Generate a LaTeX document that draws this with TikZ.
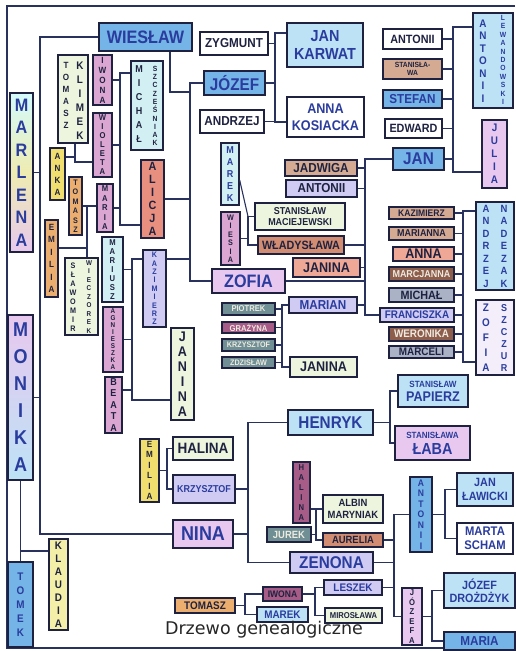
\documentclass[tikz,border=0pt]{standalone}
\usepackage{fontspec}
\setmainfont{Liberation Sans}
\newfontfamily\hand{Liberation Sans}[FakeStretch=0.9]
\newfontfamily\capfont{DejaVu Sans}
\usepackage{tikz}
\usetikzlibrary{calc}
\definecolor{ink}{HTML}{1E2240}
\definecolor{wire}{HTML}{29315E}
\definecolor{penblue}{HTML}{2A3C9E}
\definecolor{chalk}{HTML}{EEEAE0}
\definecolor{skyblue}{HTML}{74B4E6}
\definecolor{paleblue}{HTML}{BDE2F6}
\definecolor{lavender}{HTML}{CFCBF2}
\definecolor{pinklav}{HTML}{E8C8EE}
\definecolor{rosepink}{HTML}{DCA6D2}
\definecolor{salmon}{HTML}{F0A896}
\definecolor{coral}{HTML}{E98F80}
\definecolor{clay}{HTML}{D28C72}
\definecolor{tanbrown}{HTML}{D5AA92}
\definecolor{darkbrown}{HTML}{8E5E4C}
\definecolor{slate}{HTML}{6F8F94}
\definecolor{plum}{HTML}{A65C86}
\definecolor{lemon}{HTML}{F0DE6E}
\definecolor{lemonpale}{HTML}{F4EFA8}
\definecolor{apricot}{HTML}{EBAE6E}
\definecolor{mintwhite}{HTML}{EDF5DE}
\definecolor{icecyan}{HTML}{D2EFF3}
\definecolor{steelgray}{HTML}{AAB2C6}
\definecolor{lilacwhite}{HTML}{F4EEFA}

\begin{document}
\begin{tikzpicture}[x=1pt,y=-1pt,
  box/.style={draw=ink,line width=1.3pt,inner sep=0pt,align=center},
  conn/.style={draw=wire,line width=1.1pt},
  lbl/.style={inner sep=0pt,align=center}]

  \useasboundingbox[fill=white] (0,0) rectangle (515,651);
  \draw[conn] (515,6) -- (7,6) -- (7,648) -- (515,648);

  \node[box,top color=icecyan!70!cyan!40,bottom color=pinklav,middle color=mintwhite!60!lemon,text=penblue,
        font=\hand\bfseries\fontsize{18}{22.5}\selectfont,minimum width=23pt,minimum height=159pt]
    (marlena) at (21.5,172.5) {M\\A\\R\\L\\E\\N\\A};
  \node[box,top color=pinklav,bottom color=paleblue,text=penblue,
        font=\hand\bfseries\fontsize{20}{27}\selectfont,minimum width=25pt,minimum height=165pt]
    (monika) at (20.5,397.5) {M\\O\\N\\I\\K\\A};
  \node[box,fill=skyblue,text=penblue,font=\hand\bfseries\fontsize{11}{14}\selectfont,
        minimum width=25pt,minimum height=85pt]
    (tomek) at (20.5,604.5) {T\\O\\M\\E\\K};

  \foreach \n/\xa/\ya/\xb/\yb/\col/\tc/\fs/\fb/\txt in {
    klaudia/49/539/68/630/lemonpale/ink/11/13/K\\L\\A\\U\\D\\I\\A,
    anka/50/148/65/200/lemon/ink/9/12/A\\N\\K\\A,
    tomasz2/69/177/82/235/apricot/ink/8/9.5/T\\O\\M\\A\\S\\Z,
    iwona1/93/55/112/105/rosepink/ink/9/10/I\\W\\O\\N\\A,
    wioleta/93/113/112/177/rosepink/ink/8.5/9/W\\I\\O\\L\\E\\T\\A,
    maria1/97/184/113/232/rosepink/ink/8.5/9.5/M\\A\\R\\I\\A,
    alicja/141/160/164/238/coral/ink/12/13/A\\L\\I\\C\\J\\A,
    emilia1/45/220/58/297/apricot/ink/9/12.5/E\\M\\I\\L\\I\\A,
    mariusz/102/237/123/302/icecyan/ink/8.5/9/M\\A\\R\\I\\U\\S\\Z,
    agnieszka/103/307/123/372/rosepink/ink/7/7/A\\G\\N\\I\\E\\S\\Z\\K\\A,
    beata/105/377/122/433/rosepink/ink/10/11.5/B\\E\\A\\T\\A,
    kazim1/143/250/166/327/lavender/penblue/8/8.4/K\\A\\Z\\I\\M\\I\\E\\R\\Z,
    janina1/171/328/194/420/mintwhite/ink/14/15/J\\A\\N\\I\\N\\A,
    julia/482/120/507/188/pinklav/penblue/11/13/J\\U\\L\\I\\A,
    marek1/221/143/239/205/icecyan/penblue/10/12/M\\A\\R\\E\\K,
    wiesia/221/212/240/265/rosepink/ink/8/8.5/W\\I\\E\\S\\I\\A,
    halina2/293/462/310/523/plum/ink/8.5/10/H\\A\\L\\I\\N\\A,
    antonii3/410/477/432/552/skyblue/penblue/9.5/10.5/A\\N\\T\\O\\N\\I\\I,
    jozefa/402/588/422/645/pinklav/ink/8.5/9.5/J\\Ó\\Z\\E\\F\\A,
    emilia2/140/439/159/502/lemon/ink/9/10.5/E\\M\\I\\L\\I\\A,
    wieslaw/99/23/192/51/skyblue/penblue/18/20/WIESŁAW,
    zygmunt/200/32/268/55/white/ink/13/15/ZYGMUNT,
    jozef/204/71/265/95/skyblue/penblue/17/19/JÓZEF,
    andrzej/200/110/264/133/white/ink/13/15/ANDRZEJ,
    jankarwat/287/23/363/67/paleblue/penblue/16/18/JAN\\KARWAT,
    annakos/287/97/364/137/white/penblue/14/16.5/ANNA\\KOSIACKA,
    antonii1/383/29/442/49/white/ink/12/14/ANTONII,
    stanislawa/383/59/442/79/tanbrown/ink/7.5/8/STANISŁA-\\WA,
    stefan/383/90/442/108/skyblue/penblue/13/15/STEFAN,
    edward/385/119/442/138/white/ink/12/14/EDWARD,
    jan1/393/148/444/170/skyblue/penblue/17/19/JAN,
    jadwiga/285/160/357/176/tanbrown/ink/13/15/JADWIGA,
    antonii2/286/180/357/197/lavender/ink/13/15/ANTONII,
    stanmac/255/203/345/230/mintwhite/ink/10/11.5/STANISŁAW\\MACIEJEWSKI,
    wladyslawa/258/236/344/254/clay/ink/12/14/WŁADYSŁAWA,
    janina2/293/258/360/277/salmon/ink/14/16/JANINA,
    zofia/212/269/285/293/pinklav/penblue/18/20/ZOFIA,
    marian/289/297/357/313/lavender/penblue/13/15/MARIAN,
    janina3/290/357/357/377/mintwhite/ink/14/16/JANINA,
    piotrek/222/303/275/315/slate/chalk/8.5/10/PIOTREK,
    grazyna/222/322/275/333/plum/chalk/8.5/10/GRAŻYNA,
    krzysztof2/222/339/275/351/slate/chalk/8/9/KRZYSZTOF,
    zdzislaw/222/357/275/368/slate/chalk/8/9/ZDZISŁAW,
    kazim2/389/207/454/219/tanbrown/ink/9.5/11/KAZIMIERZ,
    marianna/389/227/454/240/tanbrown/ink/10/12/MARIANNA,
    anna/393/247/454/261/salmon/ink/14/16/ANNA,
    marcjanna/389/267/454/281/darkbrown/chalk/10/12/MARCJANNA,
    michal2/389/288/454/302/steelgray/ink/12/14/MICHAŁ,
    franciszka/380/308/454/322/lavender/penblue/11/13/FRANCISZKA,
    weronika/389/327/454/341/darkbrown/chalk/11/13/WERONIKA,
    marceli/389/346/454/358/steelgray/ink/11/13/MARCELI,
    stpapierz/398/375/468/407/paleblue/penblue/14/14/{\fontsize{9}{10}\selectfont STANISŁAW}\\PAPIERZ,
    henryk/288/410/373/435/paleblue/penblue/17/19/HENRYK,
    laba/395/426/470/460/pinklav/penblue/16/16/{\fontsize{9}{10}\selectfont STANISŁAWA}\\ŁABA,
    halina1/173/437/233/460/mintwhite/ink/15/17/HALINA,
    krzysztof1/173/475/235/503/lavender/penblue/10/12/KRZYSZTOF,
    nina/173/520/233/548/pinklav/penblue/20/22/NINA,
    zenona/290/552/373/573/lavender/penblue/17/19/ZENONA,
    albin/323/495/383/523/mintwhite/ink/10.5/12/ALBIN\\MARYNIAK,
    aurelia/323/533/383/547/clay/ink/10.5/12/AURELIA,
    jurek/267/527/311/542/slate/chalk/10.5/12/JUREK,
    tomasz3/175/598/235/613/apricot/ink/11/13/TOMASZ,
    iwona2/263/587/302/601/plum/ink/9.5/11/IWONA,
    marek2/257/607/308/622/paleblue/penblue/11/13/MAREK,
    leszek/324/580/382/595/lavender/penblue/11/13/LESZEK,
    miroslawa/325/608/382/623/mintwhite/ink/8.5/10/MIROSŁAWA,
    janlaw/457/473/513/506/paleblue/penblue/12/13.5/JAN\\ŁAWICKI,
    marta/457/523/513/554/white/penblue/12.5/14/MARTA\\SCHAM,
    jozefd/444/573/515/608/paleblue/penblue/12/13.5/JÓZEF\\DROŻDŻYK,
    maria2/444/632/515/650/skyblue/penblue/13/15/MARIA,
    klimek/58/55/88/143/mintwhite/ink/9/9/{},
    michal1/131/61/163/150/icecyan/ink/9/9/{},
    slawomir/65/258/98/335/mintwhite/ink/9/9/{},
    antoniilew/473/13/513/108/paleblue/ink/9/9/{},
    andrzejn/476/202/514/290/paleblue/ink/9/9/{},
    zofiasz/476/300/514/375/lilacwhite/ink/9/9/{}}
    \node[box,fill=\col,text=\tc,font=\hand\bfseries\fontsize{\fs}{\fb}\selectfont,
          minimum width={(\xb-\xa)*1pt},minimum height={(\yb-\ya)*1pt}]
      (\n) at ({(\xa+\xb)/2},{(\ya+\yb)/2}) {\txt};

  \foreach \n/\x/\y/\fs/\fb/\tc/\txt in {
    klimek-l/66/95/9/12/ink/T\\O\\M\\A\\S\\Z,
    klimek-r/80/101/11/14/ink/K\\L\\I\\M\\E\\K,
    michal1-l/139/104/10/14/ink/M\\I\\C\\H\\A\\Ł,
    michal1-r/155/106/7.5/8.3/ink/S\\Z\\C\\Z\\E\\Ś\\N\\I\\A\\K,
    slawomir-l/73/297/8/9/ink/S\\Ł\\A\\W\\O\\M\\I\\R,
    slawomir-r/89/297/7/8.5/ink/W\\I\\E\\C\\Z\\O\\R\\E\\K,
    antoniilew-l/483/61/11/12.5/penblue/A\\N\\T\\O\\N\\I\\I,
    antoniilew-r/503/60/7.5/8.4/penblue/L\\E\\W\\A\\N\\D\\O\\W\\S\\K\\I,
    andrzejn-l/486/246/10.5/12.5/penblue/A\\N\\D\\R\\Z\\E\\J,
    andrzejn-r/504/246/10.5/12.5/penblue/N\\A\\D\\E\\Z\\A\\K,
    zofiasz-l/486/338/11/15/penblue/Z\\O\\F\\I\\A,
    zofiasz-r/504/338/10/12/penblue/S\\Z\\C\\Z\\U\\R}
    \node[lbl,text=\tc,font=\hand\bfseries\fontsize{\fs}{\fb}\selectfont] (\n) at (\x,\y) {\txt};

  \node[font=\capfont\fontsize{17.5}{20}\selectfont,text=black!85] (title) at (264,630) {Drzewo genealogiczne};

  \coordinate (busWN) at (40,0);
  \draw[conn] (wieslaw.west) -| (busWN |- nina.west) -- (nina.west);
  \draw[conn] (marlena.east) -- (busWN |- marlena.east);
  \draw[conn] (monika.east) -- (busWN |- monika.east);

  \coordinate (busMT) at (20.5,551);
  \draw[conn] (monika.south) -- (tomek.north);
  \draw[conn] (busMT) -- (busMT -| klaudia.west);

  \coordinate (busJ) at (190,0);
  \coordinate (wj) at (170,92);
  \coordinate (kj) at (190,259);
  \draw[conn] (jozef.west) -- (busJ |- jozef.west) -- (busJ |- zofia.west) -- (zofia.west);
  \draw[conn] (wieslaw.south -| wj) -- (wj) -- (busJ |- wj);
  \draw[conn] (alicja.east) -- (busJ |- alicja.east);
  \draw[conn] (kj -| kazim1.east) -- (kj);

  \coordinate (kTop) at (275,33);
  \coordinate (kBot) at (275,122);
  \draw[conn] (kTop -| jankarwat.west) -- (kTop) -- (kBot) -- (kBot -| annakos.west);
  \foreach \c in {zygmunt,jozef,andrzej}
    \draw[conn] (\c.east) -- (kTop |- \c.east);

  \coordinate (lTop) at (453,27);
  \coordinate (lBot) at (453,172);
  \draw[conn] (lTop -| antoniilew.west) -- (lTop) -- (lBot) -- (lBot -| julia.west);
  \foreach \c in {antonii1,stanislawa,stefan,edward,jan1}
    \draw[conn] (\c.east) -- (lTop |- \c.east);

  \coordinate (busF) at (365,0);
  \draw[conn] (jan1.west) -- (busF |- jan1.west) -- (busF |- franciszka.west) -- (franciszka.west);
  \foreach \c in {jadwiga,antonii2,wladyslawa,janina2,zofia,marian}
    \draw[conn] (\c.east) -- (busF |- \c.east);

  \coordinate (nTop) at (463,211);
  \coordinate (nBot) at (463,362);
  \draw[conn] (nTop -| andrzejn.west) -- (nTop) -- (nBot) -- (nBot -| zofiasz.west);
  \foreach \c in {kazim2,marianna,anna,marcjanna,michal2,franciszka,weronika,marceli}
    \draw[conn] (\c.east) -- (nTop |- \c.east);

  \coordinate (busM) at (248,0);
  \draw[conn] (stanmac.west) -- (busM |- stanmac.west) -- (busM |- wladyslawa.west) -- (wladyslawa.west);
  \draw[conn] ([yshift=-6pt]marek1.east) -- (busM |- stanmac.west);
  \draw[conn] (wiesia.east) -- (busM |- wiesia.east);

  \coordinate (busR) at (282,0);
  \draw[conn] (marian.west) -- (busR |- marian.west) -- (busR |- janina3.west) -- (janina3.west);
  \foreach \c in {piotrek,grazyna,krzysztof2,zdzislaw}
    \draw[conn] (\c.east) -- (busR |- \c.east);

  \coordinate (busP) at (390,0);
  \draw[conn] (stpapierz.west) -- (busP |- stpapierz.west) -- (busP |- laba.west) -- (laba.west);
  \draw[conn] (henryk.east) -- (busP |- henryk.east);

  \coordinate (busH) at (248,0);
  \draw[conn] (henryk.west) -- (busH |- henryk.west) -- (busH |- zenona.west) -- (zenona.west);
  \foreach \c in {krzysztof1,nina}
    \draw[conn] (\c.east) -- (busH |- \c.east);

  \coordinate (busE) at (167,0);
  \draw[conn] (halina1.west) -- (busE |- halina1.west) -- (busE |- krzysztof1.west) -- (krzysztof1.west);
  \draw[conn] (emilia2.east) -- (busE |- emilia2.east);

  \coordinate (busA) at (394,0);
  \draw[conn] (antonii3.west) -- (busA |- antonii3.west) -- (busA |- jozefa.west) -- (jozefa.west);
  \foreach \c in {aurelia,zenona,leszek}
    \draw[conn] (\c.east) -- (busA |- \c.east);

  \coordinate (busW) at (445,0);
  \draw[conn] (janlaw.west) -- (busW |- janlaw.west) -- (busW |- marta.west) -- (marta.west);
  \draw[conn] (antonii3.east) -- (busW |- antonii3.east);

  \coordinate (busD) at (432,0);
  \draw[conn] (jozefd.west) -- (busD |- jozefd.west) -- (busD |- maria2.west) -- (maria2.west);
  \draw[conn] (jozefa.east) -- (busD |- jozefa.east);

  \coordinate (busB) at (316,0);
  \draw[conn] (albin.west) -- (busB |- albin.west) -- (busB |- aurelia.west) -- (aurelia.west);
  \draw[conn] (halina2.east |- albin.west) -- (busB |- albin.west);
  \draw[conn] (jurek.east) -- (busB |- jurek.east);

  \coordinate (busS) at (315,0);
  \draw[conn] (leszek.west) -- (busS |- leszek.west) -- (busS |- miroslawa.west) -- (miroslawa.west);
  \draw[conn] (iwona2.east) -- (busS |- iwona2.east);

  \coordinate (busT) at (245,0);
  \draw[conn] (iwona2.west) -- (busT |- iwona2.west) -- (busT |- marek2.west) -- (marek2.west);
  \draw[conn] (tomasz3.east) -- (busT |- tomasz3.east);

  \coordinate (cTop) at (120,73);
  \coordinate (cBot) at (120,225);
  \draw[conn] (cTop -| michal1.west) -- (cTop) -- (cBot) -- (cBot -| alicja.west);
  \foreach \c in {iwona1,wioleta,maria1}
    \draw[conn] (\c.east) -- (cTop |- \c.east);

  \coordinate (kw) at (75,162);
  \coordinate (ak) at (75,157);
  \draw[conn] (klimek.south -| kw) -- (kw) -- (kw -| wioleta.west);
  \draw[conn] (ak -| anka.east) -- (ak);

  \coordinate (busG) at (87,0);
  \coordinate (eg) at (87,248);
  \draw[conn] (tomasz2.east) -- (maria1.west |- tomasz2.east);
  \draw[conn] (busG |- tomasz2.east) -- (busG |- slawomir.north);
  \draw[conn] (eg -| emilia1.east) -- (eg);

  \coordinate (zTop) at (132,259);
  \coordinate (zBot) at (132,400);
  \coordinate (bz) at (132,390);
  \draw[conn] (zTop -| kazim1.west) -- (zTop) -- (zBot) -- (zBot -| janina1.west);
  \draw[conn] (mariusz.east) -- (zTop |- mariusz.east);
  \draw[conn] (agnieszka.east) -- (zTop |- agnieszka.east);
  \draw[conn] (bz -| beata.east) -- (bz);
\end{tikzpicture}
\end{document}
